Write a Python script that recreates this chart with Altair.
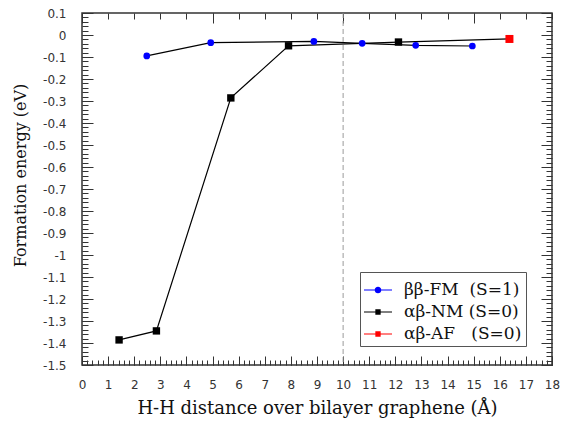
import altair as alt
import pandas as pd

# ---- data ----
S1 = "ββ-FM\u00a0\u00a0(S=1)"
S2 = "αβ-NM\u00a0(S=0)"
S3 = "αβ-AF\u00a0\u00a0\u00a0(S=0)"
series_names = [S1, S2, S3]
series_colors = ["#0000ff", "#000000", "#ff0000"]

bb_x = [2.48, 4.93, 8.88, 10.73, 12.78, 14.95]
bb_y = [-0.095, -0.035, -0.029, -0.038, -0.047, -0.050]
nm_x = [1.42, 2.85, 5.70, 7.91, 12.12]
nm_y = [-1.386, -1.345, -0.286, -0.049, -0.032]
af_x = [16.37]
af_y = [-0.018]
vline_x = [10]

x_ticks = list(range(0, 19))
y_ticks = [round(-1.5 + 0.1 * i, 1) for i in range(17)]
x_minor = [round(0.2 * i, 1) for i in range(91)]
y_minor = [round(-1.5 + 0.02 * i, 2) for i in range(81)]
x_top_major = [0, 5, 10, 15]

pts = pd.DataFrame({
    "x": bb_x + nm_x + af_x,
    "y": bb_y + nm_y + af_y,
    "series": [S1] * len(bb_x) + [S2] * len(nm_x) + [S3] * len(af_x),
})
lines = pd.DataFrame({
    "x": bb_x + nm_x + af_x,
    "y": bb_y + nm_y + af_y,
    "line": ["bb"] * len(bb_x) + ["ab"] * (len(nm_x) + len(af_x)),
})
vline = pd.DataFrame({"x": vline_x})

W, H = 470, 352
xs = alt.Scale(domain=[0, 18], nice=False, zero=False)
ys = alt.Scale(domain=[-1.5, 0.1], nice=False, zero=False)
TICKC = "#333333"


def tick_axis(orient, values, size, offset):
    return alt.Axis(orient=orient, values=values, tickSize=size, offset=offset,
                    labels=False, domain=False, grid=False, ticks=True,
                    tickColor=TICKC, tickWidth=1)


x_label_axis = alt.Axis(orient="bottom", values=x_ticks, ticks=False, domain=False, grid=False,
                        labelFont="DejaVu Sans", labelFontSize=12, labelColor="#333333",
                        labelPadding=14, labelFlush=False,
                        titleFont="DejaVu Serif", titleFontSize=18, titleFontWeight="normal",
                        titleColor="#111111", titlePadding=9)
y_label_axis = alt.Axis(orient="left", values=y_ticks, ticks=False, domain=False, grid=False,
                        labelFont="DejaVu Sans", labelFontSize=12, labelColor="#333333",
                        labelPadding=16, labelFlush=False,
                        labelExpr="replace(format(datum.value, '.1~f'), '\u2212', '-')",
                        titleFont="DejaVu Serif", titleFontSize=16, titleFontWeight="normal",
                        titleColor="#111111", titlePadding=14, titleY=162)

line_layer = alt.Chart(lines).mark_line(color="black", strokeWidth=1.2).encode(
    x=alt.X("x:Q", scale=xs, axis=x_label_axis, title="H-H distance over bilayer graphene (Å)"),
    y=alt.Y("y:Q", scale=ys, axis=y_label_axis, title="Formation energy (eV)"),
    detail="line:N",
)

color_scale = alt.Scale(domain=series_names, range=series_colors)

point_layer = alt.Chart(pts).mark_point(filled=True, opacity=1).encode(
    x=alt.X("x:Q", scale=xs, axis=tick_axis("top", x_ticks, 9, -H), title=None),
    y=alt.Y("y:Q", scale=ys, axis=tick_axis("right", y_ticks, 11, -W), title=None),
    color=alt.Color("series:N", scale=color_scale, legend=None),
    shape=alt.Shape("series:N", scale=alt.Scale(domain=series_names, range=["circle", "square", "square"]), legend=None),
    size=alt.Size("series:N", scale=alt.Scale(domain=series_names, range=[45, 64, 64]), legend=None),
)

dummy3 = alt.Chart(pts).mark_point(opacity=0).encode(
    x=alt.X("x:Q", scale=xs, axis=tick_axis("top", x_minor, 5, -H), title=None),
    y=alt.Y("y:Q", scale=ys, axis=tick_axis("right", y_minor, 6, -W), title=None),
)
dummy4 = alt.Chart(pts).mark_point(opacity=0).encode(
    x=alt.X("x:Q", scale=xs, axis=tick_axis("bottom", x_top_major, 10, -H), title=None),
    y=alt.Y("y:Q", scale=ys, axis=tick_axis("left", y_ticks, 11, -W), title=None),
)
dummy5 = alt.Chart(pts).mark_point(opacity=0).encode(
    x=alt.X("x:Q", scale=xs, axis=tick_axis("bottom", x_ticks, 6, -H), title=None),
    y=alt.Y("y:Q", scale=ys, axis=tick_axis("left", y_minor, 6, -W), title=None),
)

rule_layer = alt.Chart(vline).mark_rule(color="#9a9a9a", strokeDash=[5, 3], strokeWidth=1).encode(
    x=alt.X("x:Q", scale=xs, axis=None),
)

# legend symbols: line + marker
circ_path = ("M-1,-0.036H-0.24V0.036H-1Z M0.24,-0.036H1V0.036H0.24Z "
             "M-0.24,0A0.24,0.24 0 1,0 0.24,0A0.24,0.24 0 1,0 -0.24,0Z")
sq_path = ("M-1,-0.036H-0.19V0.036H-1Z M0.19,-0.036H1V0.036H0.19Z "
           "M-0.19,-0.19H0.19V0.19H-0.19Z")

leg = alt.Legend(orient="none", legendX=278, legendY=259, title=None,
                 padding=4, strokeColor="#555555", fillColor="white", cornerRadius=0,
                 labelFont="DejaVu Serif", labelFontSize=17, labelColor="#111111",
                 symbolSize=784, labelOffset=12, rowPadding=0, symbolStrokeWidth=0)

legend_layer = alt.Chart(pts).transform_filter("false").mark_point(filled=True, size=784, opacity=1).encode(
    color=alt.Color("series:N", scale=color_scale, legend=leg),
    shape=alt.Shape("series:N", scale=alt.Scale(domain=series_names, range=[circ_path, sq_path, sq_path]), legend=leg),
)

chart = alt.layer(
    rule_layer, line_layer, point_layer, dummy3, dummy4, dummy5, legend_layer
).resolve_axis(
    x="independent", y="independent"
).resolve_scale(
    color="independent", shape="independent", size="independent"
).properties(
    width=W, height=H,
    autosize=alt.AutoSizeParams(type="none"),
    padding={"left": 74, "top": 5, "right": 20, "bottom": 53},
).configure_view(stroke="#333333", strokeWidth=1.5)

chart.save("out.html", embed_options={"renderer": "svg", "actions": False})
